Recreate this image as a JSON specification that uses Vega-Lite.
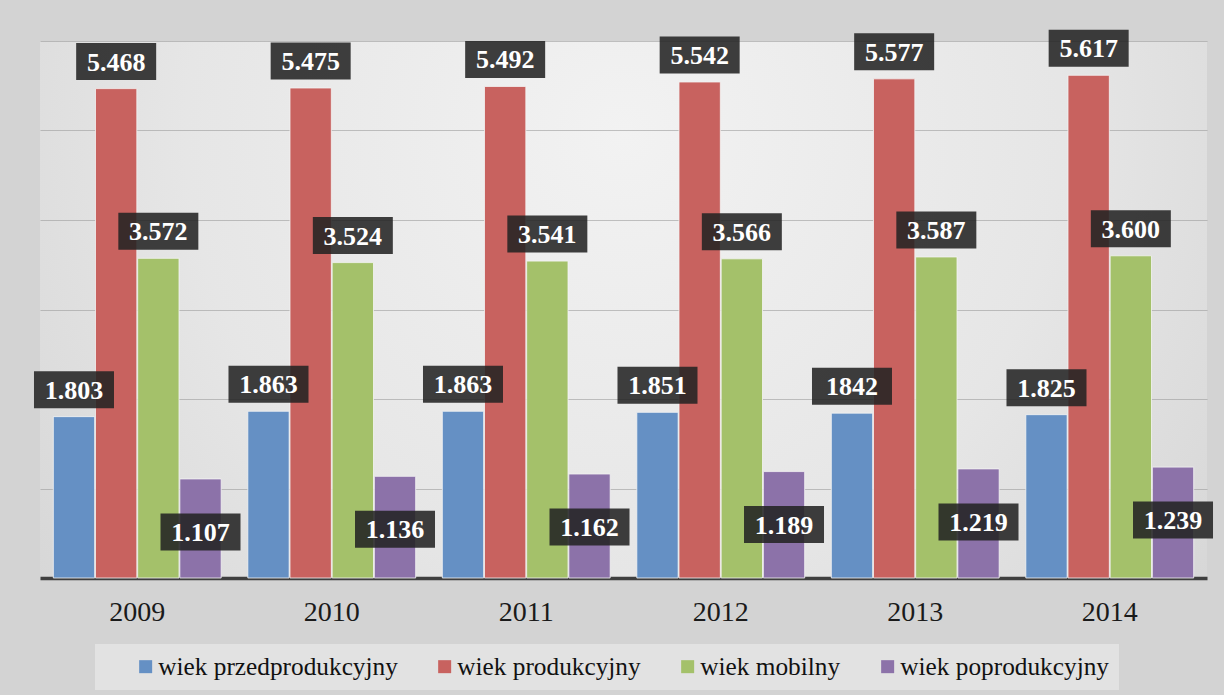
{
  "$schema": "https://vega.github.io/schema/vega-lite/v6.json",
  "width": 1167,
  "height": 537,
  "autosize": {"type": "none"},
  "padding": {"left": 40, "top": 41, "right": 17, "bottom": 117},
  "background": "#d3d3d3",
  "view": {
    "stroke": null,
    "fill": {
      "gradient": "radial",
      "x1": 0.5, "y1": 0.35, "r1": 0,
      "x2": 0.5, "y2": 0.35, "r2": 0.75,
      "stops": [
        {"offset": 0, "color": "#f2f2f2"},
        {"offset": 0.5, "color": "#e6e6e6"},
        {"offset": 1, "color": "#d0d0d0"}
      ]
    }
  },
  "data": {
    "values": [
      {"year": "2009", "group": "wiek przedprodukcyjny", "value": 1.803, "label": "1.803"},
      {"year": "2009", "group": "wiek produkcyjny", "value": 5.468, "label": "5.468"},
      {"year": "2009", "group": "wiek mobilny", "value": 3.572, "label": "3.572"},
      {"year": "2009", "group": "wiek poprodukcyjny", "value": 1.107, "label": "1.107"},
      {"year": "2010", "group": "wiek przedprodukcyjny", "value": 1.863, "label": "1.863"},
      {"year": "2010", "group": "wiek produkcyjny", "value": 5.475, "label": "5.475"},
      {"year": "2010", "group": "wiek mobilny", "value": 3.524, "label": "3.524"},
      {"year": "2010", "group": "wiek poprodukcyjny", "value": 1.136, "label": "1.136"},
      {"year": "2011", "group": "wiek przedprodukcyjny", "value": 1.863, "label": "1.863"},
      {"year": "2011", "group": "wiek produkcyjny", "value": 5.492, "label": "5.492"},
      {"year": "2011", "group": "wiek mobilny", "value": 3.541, "label": "3.541"},
      {"year": "2011", "group": "wiek poprodukcyjny", "value": 1.162, "label": "1.162"},
      {"year": "2012", "group": "wiek przedprodukcyjny", "value": 1.851, "label": "1.851"},
      {"year": "2012", "group": "wiek produkcyjny", "value": 5.542, "label": "5.542"},
      {"year": "2012", "group": "wiek mobilny", "value": 3.566, "label": "3.566"},
      {"year": "2012", "group": "wiek poprodukcyjny", "value": 1.189, "label": "1.189"},
      {"year": "2013", "group": "wiek przedprodukcyjny", "value": 1.842, "label": "1842"},
      {"year": "2013", "group": "wiek produkcyjny", "value": 5.577, "label": "5.577"},
      {"year": "2013", "group": "wiek mobilny", "value": 3.587, "label": "3.587"},
      {"year": "2013", "group": "wiek poprodukcyjny", "value": 1.219, "label": "1.219"},
      {"year": "2014", "group": "wiek przedprodukcyjny", "value": 1.825, "label": "1.825"},
      {"year": "2014", "group": "wiek produkcyjny", "value": 5.617, "label": "5.617"},
      {"year": "2014", "group": "wiek mobilny", "value": 3.600, "label": "3.600"},
      {"year": "2014", "group": "wiek poprodukcyjny", "value": 1.239, "label": "1.239"}
    ]
  },
  "encoding": {
    "x": {
      "field": "year", "type": "nominal", "title": null,
      "scale": {"paddingInner": 0.137, "paddingOuter": 0.0685},
      "axis": {
        "labelAngle": 0, "ticks": false, "domainColor": "#3f3f3f", "domainWidth": 3.5,
        "labelFont": "Liberation Serif", "labelFontSize": 28, "labelColor": "#1a1a1a",
        "labelPadding": 20, "grid": false
      }
    },
    "xOffset": {
      "field": "group", "type": "nominal",
      "scale": {"domain": ["wiek przedprodukcyjny", "wiek produkcyjny", "wiek mobilny", "wiek poprodukcyjny"], "paddingInner": 0.02}
    },
    "y": {
      "field": "value", "type": "quantitative", "title": null,
      "scale": {"domain": [0, 6], "nice": false},
      "axis": {
        "values": [1, 2, 3, 4, 5, 6], "labels": false, "ticks": false, "domain": false,
        "gridColor": "#9c9c9c", "gridOpacity": 0.6, "gridWidth": 1.2
      }
    }
  },
  "layer": [
    {
      "mark": {"type": "bar", "stroke": "#f4f4f4", "strokeWidth": 1, "strokeOpacity": 0.8},
      "encoding": {
        "color": {
          "field": "group", "type": "nominal",
          "scale": {
            "domain": ["wiek przedprodukcyjny", "wiek produkcyjny", "wiek mobilny", "wiek poprodukcyjny"],
            "range": ["#6590c4", "#c8625f", "#a4c16a", "#8c72a9"]
          },
          "legend": {
            "title": " ", "titleOrient": "left", "titlePadding": 28, "titleFontSize": 8,
            "orient": "none", "direction": "horizontal",
            "legendX": 55, "legendY": 603,
            "fillColor": "#e2e2e2", "padding": 10,
            "symbolType": "square", "symbolSize": 169, "symbolStrokeWidth": 0, "symbolOpacity": 1,
            "labelFont": "Liberation Serif", "labelFontSize": 25.3, "labelColor": "#111111",
            "labelOffset": 0, "columnPadding": 34, "labelLimit": 400
          }
        }
      }
    },
    {
      "transform": [{"filter": "datum.group !== 'wiek poprodukcyjny'"}],
      "mark": {"type": "point", "shape": "M-1,-0.4625H1V0.4625H-1Z", "filled": true, "size": 6400, "color": "#232323", "opacity": 0.87, "strokeWidth": 0, "yOffset": -27}
    },
    {
      "transform": [{"filter": "datum.group === 'wiek poprodukcyjny'"}],
      "mark": {"type": "point", "shape": "M-1,-0.4625H1V0.4625H-1Z", "filled": true, "size": 6400, "color": "#232323", "opacity": 0.87, "strokeWidth": 0, "yOffset": 53}
    },
    {
      "transform": [{"filter": "datum.group !== 'wiek poprodukcyjny'"}],
      "mark": {"type": "text", "font": "Liberation Serif", "fontWeight": "bold", "fontSize": 26, "color": "#ffffff", "baseline": "middle", "align": "center", "yOffset": -26},
      "encoding": {"text": {"field": "label"}}
    },
    {
      "transform": [{"filter": "datum.group === 'wiek poprodukcyjny'"}],
      "mark": {"type": "text", "font": "Liberation Serif", "fontWeight": "bold", "fontSize": 26, "color": "#ffffff", "baseline": "middle", "align": "center", "yOffset": 54},
      "encoding": {"text": {"field": "label"}}
    }
  ],
  "config": {
    "axis": {"labelFontWeight": "normal"},
    "legend": {"labelFont": "Liberation Serif", "labelColor": "#111111"}
  }
}
